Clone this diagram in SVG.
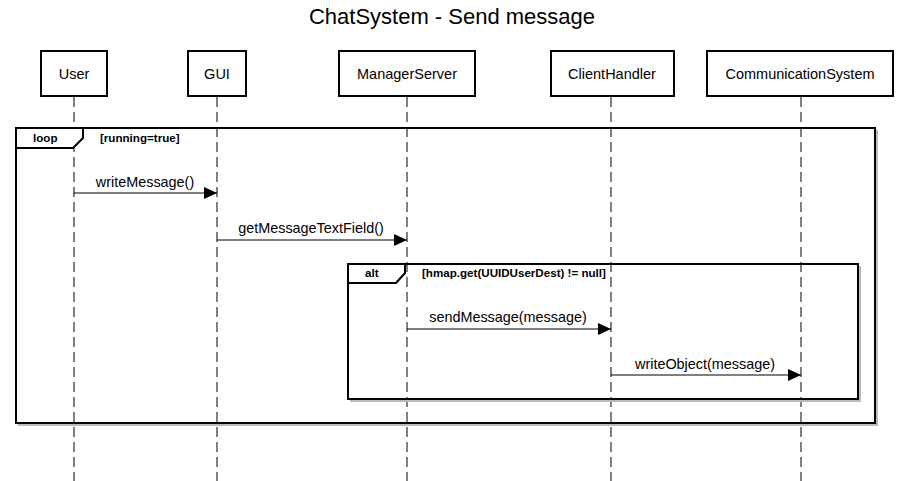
<svg xmlns="http://www.w3.org/2000/svg" width="903" height="481" viewBox="0 0 903 481">
<defs>
<style>
text{font-family:"Liberation Sans",Arial,sans-serif;fill:#000}
.title{font-size:22px;text-anchor:middle}
.pname{font-size:14.5px;text-anchor:middle}
.msg{font-size:14.4px;text-anchor:middle}
.flab{font-size:11.6px;font-weight:bold}
.box{fill:#fff;stroke:#000;stroke-width:2}
.shadow{fill:none;stroke:#bbb;stroke-width:2}
.life{stroke:#000;stroke-width:1;stroke-dasharray:10,5}
.frame{fill:none;stroke:#000;stroke-width:2}
.tab{fill:#fff;stroke:#000;stroke-width:2}
.arrow{stroke:#000;stroke-width:1;fill:none;marker-end:url(#ah)}
</style>
<marker id="ah" viewBox="0 0 13 12" refX="13" refY="6" markerWidth="13" markerHeight="12" markerUnits="userSpaceOnUse" orient="auto">
<path d="M0,0 L13,6 L0,12 Z" fill="#000"/>
</marker>
</defs>
<rect width="903" height="481" fill="#fff"/>
<text class="title" x="452" y="24">ChatSystem - Send message</text>

<g id="lifelines">
<line class="life" x1="74" y1="97" x2="74" y2="481"/>
<line class="life" x1="217" y1="97" x2="217" y2="481"/>
<line class="life" x1="407" y1="97" x2="407" y2="481"/>
<line class="life" x1="611" y1="97" x2="611" y2="481"/>
<line class="life" x1="801" y1="97" x2="801" y2="481"/>
</g>

<g id="User"><rect class="box" x="41" y="51" width="66" height="45"/><text class="pname" x="74" y="79">User</text></g>
<g id="GUI"><rect class="box" x="188" y="51" width="58" height="45"/><text class="pname" x="217" y="79">GUI</text></g>
<g id="ManagerServer"><rect class="box" x="339" y="51" width="136" height="45"/><text class="pname" x="407" y="79">ManagerServer</text></g>
<g id="ClientHandler"><rect class="box" x="551" y="51" width="123" height="45"/><text class="pname" x="612" y="79">ClientHandler</text></g>
<g id="CommunicationSystem"><rect class="box" x="707" y="51" width="186" height="45"/><text class="pname" x="800" y="79">CommunicationSystem</text></g>

<g id="loop">
<polyline class="shadow" points="877,130 877,425 18,425"/>
<rect class="frame" x="16" y="128" width="859" height="295"/>
<path class="tab" d="M16,128 H83 V138 L73,148 H16 Z"/>
<text class="flab" x="33" y="142">loop</text>
<text class="flab" x="100" y="142">[running=true]</text>
</g>

<g id="alt">
<polyline class="shadow" points="860,266 860,401 350,401"/>
<rect class="frame" x="348" y="264" width="510" height="135"/>
<path class="tab" d="M348,264 H405 V273 L396,283 H348 Z"/>
<text class="flab" x="365" y="277">alt</text>
<text class="flab" x="422" y="277">[hmap.get(UUIDUserDest) != null]</text>
</g>

<g id="connectors">
<line class="arrow" x1="74" y1="193" x2="217" y2="193"/>
<text class="msg" x="145" y="187">writeMessage()</text>
<line class="arrow" x1="217" y1="240" x2="407" y2="240"/>
<text class="msg" x="311" y="233">getMessageTextField()</text>
<line class="arrow" x1="407" y1="329" x2="611" y2="329"/>
<text class="msg" x="508" y="322">sendMessage(message)</text>
<line class="arrow" x1="611" y1="375" x2="801" y2="375"/>
<text class="msg" x="705" y="369">writeObject(message)</text>
</g>
</svg>
